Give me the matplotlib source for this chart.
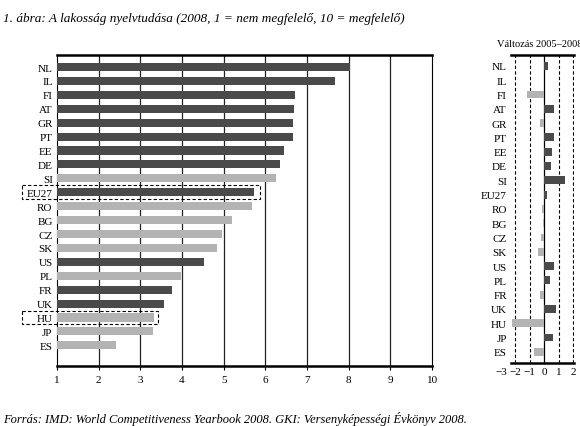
import matplotlib
matplotlib.use("Agg")
import matplotlib.pyplot as plt
from matplotlib.patches import Rectangle

plt.rcParams['font.family'] = ['Liberation Serif', 'DejaVu Serif']

countries = ["NL", "IL", "FI", "AT", "GR", "PT", "EE", "DE", "SI", "EU27", "RO",
             "BG", "CZ", "SK", "US", "PL", "FR", "UK", "HU", "JP", "ES"]
scores = [8.02, 7.68, 6.72, 6.68, 6.66, 6.66, 6.44, 6.36, 6.26, 5.72, 5.68,
          5.2, 4.96, 4.84, 4.54, 3.98, 3.76, 3.58, 3.34, 3.3, 2.42]
dark = [1, 1, 1, 1, 1, 1, 1, 1, 0, 1, 0, 0, 0, 0, 1, 0, 1, 1, 0, 0, 0]
changes = [0.25, 0.0, -1.2, 0.65, -0.3, 0.65, 0.55, 0.45, 1.4, 0.2, -0.15,
           -0.1, -0.2, -0.45, 0.7, 0.4, -0.3, 0.8, -2.25, 0.6, -0.7]

DARK = "#4a4a4a"
LIGHT = "#b3b3b3"

fig = plt.figure(figsize=(5.8, 4.27), dpi=100)
ax = fig.add_axes([0.098, 0.14, 0.647, 0.73])
ax2 = fig.add_axes([0.881, 0.147, 0.108, 0.723])

ypos = list(range(len(countries)))
colors = [DARK if d else LIGHT for d in dark]

# main panel
ax.barh(ypos, [s - 1 for s in scores], left=1, height=0.58, color=colors, zorder=3)
ax.set_xlim(1, 10)
ax.set_ylim(len(countries) + 0.5, -0.9)
ax.set_yticks(ypos)
ax.set_yticklabels(countries, fontsize=8)
ax.set_xticks(range(1, 11))
ax.tick_params(axis='x', labelsize=8, length=3)
ax.tick_params(axis='y', length=0, pad=3)
for v in range(2, 10):
    ax.axvline(v, color="#222222", lw=0.9, zorder=1)
ax.spines['top'].set_linewidth(1.8)
ax.spines['bottom'].set_linewidth(1.8)

# dashed boxes around EU27 and HU
for name, right in [("EU27", 5.88), ("HU", 3.42)]:
    i = countries.index(name)
    ax.add_patch(Rectangle((0.16, i - 0.5), right - 0.16, 1.0, fill=False,
                           ls=(0, (3, 2)), lw=0.8, ec="black", clip_on=False, zorder=4))

# change panel
ax2.barh(ypos, changes, height=0.55,
         color=[DARK if c > 0 else LIGHT for c in changes], zorder=3)
ax2.set_xlim(-2.3, 2.02)
ax2.set_ylim(len(countries) - 0.2, -0.8)
ax2.set_yticks(ypos)
ax2.set_yticklabels(countries, fontsize=8)
ax2.tick_params(axis='y', length=0, pad=3)
ax2.set_xticks([-2, -1, 0, 1, 2])
ax2.set_xticklabels(["\u22122", "\u22121", "0", "1", "2"])
ax2.tick_params(axis='x', labelsize=8, length=0, pad=3)
ax2.annotate("\u22123", xy=(-2.95, 0), xycoords=('data', 'axes fraction'),
             xytext=(0, -3), textcoords='offset points',
             fontsize=8, ha='center', va='top', annotation_clip=False)
for v in [-2, -1, 1, 2]:
    ax2.axvline(v, color="black", lw=0.8, ls=(0, (3, 2)), zorder=1)
ax2.axvline(0, color="black", lw=0.9, zorder=2)
for s in ['left', 'right']:
    ax2.spines[s].set_visible(False)
ax2.spines['top'].set_linewidth(1.8)
ax2.spines['bottom'].set_linewidth(1.8)
fig.text(0.93, 0.895, "Változás 2005\u20132008", fontsize=7.5, ha='center', va='center')

fig.text(0.005, 0.955, "1. ábra: A lakosság nyelvtudása (2008, 1 = nem megfelelő, 10 = megfelelő)",
         fontsize=9.5, style='italic', ha='left', va='center')
fig.text(0.005, 0.018, "Forrás: IMD: World Competitiveness Yearbook 2008. GKI: Versenyképességi Évkönyv 2008.",
         fontsize=9, style='italic', ha='left', va='center')

fig.savefig("out.png", dpi=100)
